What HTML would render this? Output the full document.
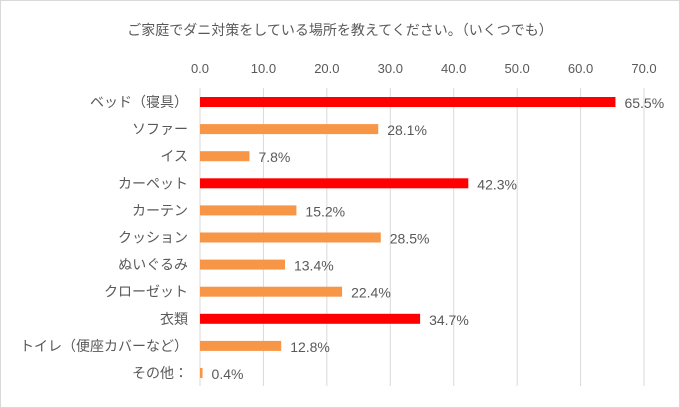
<!DOCTYPE html>
<html><head><meta charset="utf-8"><style>
body{margin:0;background:#fff;}
svg{display:block;font-family:"Liberation Sans","Noto Sans CJK JP",sans-serif;}
</style></head><body>
<svg id="chart" width="680" height="408" viewBox="0 0 680 408">
<rect x="0.5" y="0.5" width="679" height="407" fill="#fff" stroke="#d9d9d9"/>
<text x="340" y="35" text-anchor="middle" font-size="14" fill="#595959">ご家庭でダニ対策をしている場所を教えてください。（いくつでも）</text>
<g id="grid"></g><g id="bars"></g>
</svg>
<script>
const categories=["ベッド（寝具）","ソファー","イス","カーペット","カーテン","クッション","ぬいぐるみ","クローゼット","衣類","トイレ（便座カバーなど）","その他："];
const values=[65.5,28.1,7.8,42.3,15.2,28.5,13.4,22.4,34.7,12.8,0.4];
const highlight=[true,false,false,true,false,false,false,false,true,false,false];
const ticks=[0,10,20,30,40,50,60,70];
const NS="http://www.w3.org/2000/svg";
const x0=200,x1=644,xMax=70;
const xs=v=>x0+(v/xMax)*(x1-x0);
const y0=102,step=27.1;
const ys=i=>y0+i*step;
const grid=document.getElementById('grid'),bars=document.getElementById('bars');
function mk(t,a,p){const e=document.createElementNS(NS,t);for(const k in a)e.setAttribute(k,a[k]);p.appendChild(e);return e;}
ticks.forEach(t=>{
 const l=mk('line',{x1:xs(t),x2:xs(t),y1:88,y2:386,stroke:'#d9d9d9','stroke-width':1},grid);
 
 
 const tx=mk('text',{x:xs(t),y:73,'text-anchor':'middle','font-size':13,fill:'#595959'},grid);
 tx.textContent=t.toFixed(1);
 
 
});
categories.forEach((c,i)=>{
 const y=ys(i);
 const lb=mk('text',{x:188,y:y+5,'text-anchor':'end','font-size':14,fill:'#595959'},bars);
 lb.textContent=c;
 
 
 const r=mk('rect',{x:x0,y:y-5,width:Math.max(0,xs(values[i])-x0),height:10,fill:highlight[i]?'#ff0000':'#f79646'},bars);
 
 
 const vl=mk('text',{x:xs(values[i])+9,y:y+6,'font-size':14,fill:'#595959'},bars);
 vl.textContent=values[i].toFixed(1)+'%';
 
 
});
</script>
</body></html>
